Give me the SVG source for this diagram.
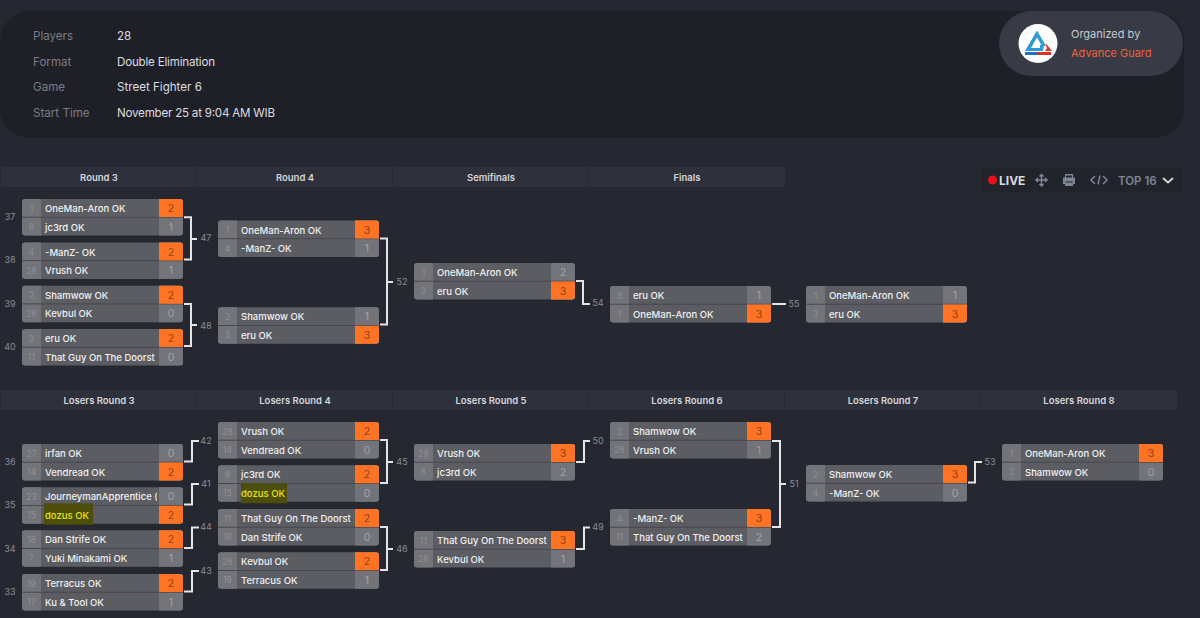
<svg xmlns="http://www.w3.org/2000/svg" xmlns:xlink="http://www.w3.org/1999/xlink" width="1200" height="618" viewBox="0 0 1200 618">
<style>
text{font-family:Inter,"Noto Sans","Liberation Sans",sans-serif}
.k{font-size:11.600px;fill:#7b7c82}
.v{font-size:11.600px;fill:#dcdde0}
.h{font-size:9.500px;font-weight:600;fill:#d6d7da;text-anchor:middle}
.hb{fill:#2e313b}
.s{font-size:8.500px;fill:#8f9096;text-anchor:middle}
.n{font-size:9.500px;font-weight:500;fill:#f0f0f0}
.y{fill:#e6e600}
.c{font-size:10.500px;fill:#a2a3a8;text-anchor:middle}
.w{font-size:10.500px;fill:#8a4516;text-anchor:middle}
.l{font-size:9px;fill:#8b8c92;text-anchor:middle}
.b{fill:none;stroke:#e4e4e6;stroke-width:2}
.i{fill:none;stroke:#7d8496;stroke-width:1.500}
</style>
<defs>
<g id="box">
<rect width="161" height="36.500" rx="3" fill="#5c5d62"/>
<path d="M19 0H3a3 3 0 0 0-3 3V33.500a3 3 0 0 0 3 3H19Z" fill="#73747a"/>
<path d="M137 0H158a3 3 0 0 1 3 3V33.500a3 3 0 0 1-3 3H137Z" fill="#73747a"/>
<rect y="17.700" width="161" height="1" fill="#46474c"/>
</g>
<path id="wt" d="M137 0H158a3 3 0 0 1 3 3V18H137Z" fill="#ff7424"/>
<path id="wb" d="M137 18.500H161V33.500a3 3 0 0 1-3 3H137Z" fill="#ff7424"/>
<clipPath id="nc"><rect x="20" y="0" width="115" height="37"/></clipPath>
</defs>
<rect width="1200" height="618" fill="#262831"/>
<rect x="0" y="11" width="1184" height="127" rx="30" fill="#1f2027"/>
<g id="info">
<text class="k" x="33" y="39.500">Players</text><text class="v" x="117" y="39.500">28</text>
<text class="k" x="33" y="65.500">Format</text><text class="v" x="117" y="65.500" textLength="98">Double Elimination</text>
<text class="k" x="33" y="91">Game</text><text class="v" x="117" y="91">Street Fighter 6</text>
<text class="k" x="33" y="117">Start Time</text><text class="v" x="117" y="117" textLength="158">November 25 at 9:04 AM WIB</text>
</g>
<g id="organizer">
<rect x="999" y="11" width="184" height="65" rx="32.500" fill="#383a45"/>
<circle cx="1038" cy="43.500" r="19.500" fill="#fff"/>
<path d="M1037 30.500 L1046 46 H1042 L1037 37.500 L1031 48 H1040 V45 H1044 L1043 51 H1025 Z" fill="#2e9bd6"/>
<path d="M1045.500 43 L1052 51 H1045 L1047 48.500 Z" fill="#d8322a"/>
<rect x="1025" y="52" width="13" height="3" fill="#2a6fb5"/>
<rect x="1038" y="52" width="13" height="3" fill="#d8322a"/>
<text x="1071" y="37.500" font-size="11" fill="#c9cad0">Organized by</text>
<text x="1071" y="57" font-size="11" fill="#f0613a">Advance Guard</text>
</g>
<g id="headers">
<rect class="hb" x="1" y="167" width="195" height="20"/><text class="h" x="99" y="180.500">Round 3</text>
<rect class="hb" x="197" y="167" width="195" height="20"/><text class="h" x="295" y="180.500">Round 4</text>
<rect class="hb" x="393" y="167" width="195" height="20"/><text class="h" x="491" y="180.500">Semifinals</text>
<rect class="hb" x="589" y="167" width="196" height="20"/><text class="h" x="687" y="180.500">Finals</text>
<rect class="hb" x="1" y="390" width="195" height="20"/><text class="h" x="99" y="404">Losers Round 3</text>
<rect class="hb" x="197" y="390" width="195" height="20"/><text class="h" x="295" y="404">Losers Round 4</text>
<rect class="hb" x="393" y="390" width="195" height="20"/><text class="h" x="491" y="404">Losers Round 5</text>
<rect class="hb" x="589" y="390" width="195" height="20"/><text class="h" x="687" y="404">Losers Round 6</text>
<rect class="hb" x="785" y="390" width="195" height="20"/><text class="h" x="883" y="404">Losers Round 7</text>
<rect class="hb" x="981" y="390" width="196" height="20"/><text class="h" x="1079" y="404">Losers Round 8</text>
</g>
<g id="toolbar">
<rect x="981" y="167" width="202" height="26" fill="#22242c"/>
<circle cx="992.500" cy="180" r="4.500" fill="#e8101a"/>
<text x="999" y="184.500" font-size="12" font-weight="700" fill="#d8d9dd">LIVE</text>
<path class="i" d="M1041.500 175V185.500M1036.500 180H1047M1039.500 176.500L1041.500 174.500L1043.500 176.500M1039.500 184L1041.500 186L1043.500 184M1038 178L1036 180L1038 182M1045 178L1047 180L1045 182"/>
<path d="M1065 174H1073V177.500H1075V184H1073V186H1065V184H1063V177.500H1065Z" fill="#7d8496"/>
<rect x="1066" y="175.500" width="6" height="2" fill="#22242c"/>
<rect x="1065.500" y="181.500" width="7" height="1" fill="#22242c"/>
<path class="i" d="M1095 176L1091 180L1095 184M1100 175.500L1098 184.500M1103 176L1107 180L1103 184"/>
<text x="1118" y="184.500" font-size="11.500" font-weight="600" fill="#7d8496">TOP 16</text>
<path d="M1163 178L1168 182.500L1173 178" fill="none" stroke="#d8d9dd" stroke-width="1.800"/>
</g>
<g id="connectors">
<path class="b" d="M184 217.300H191V259.500H184M191 239H197"/>
<path class="b" d="M184 304H191V346H184M191 325H197"/>
<path class="b" d="M380 238.500H387V324.500H380M387 282H393"/>
<path class="b" d="M576 281H583V304H590"/>
<path class="b" d="M772 304H786"/>
<path class="b" d="M184 461.500H192V441H199"/>
<path class="b" d="M184 504.500H192V484H199"/>
<path class="b" d="M184 548H192V527.500H199"/>
<path class="b" d="M184 591.500H192V571H199"/>
<path class="b" d="M380 440H387V483H380M387 462H393"/>
<path class="b" d="M380 527H387V570H380M387 549H393"/>
<path class="b" d="M576 462H584V441H590"/>
<path class="b" d="M576 549H584V527.500H590"/>
<path class="b" d="M772 441H780V527H772M780 484H786"/>
<path class="b" d="M968 482.500H975V462H982"/>
</g>
<g id="match-labels">
<text class="l" x="10" y="220">37</text><text class="l" x="10" y="263">38</text><text class="l" x="10" y="307">39</text><text class="l" x="10" y="350">40</text>
<text class="l" x="206" y="241">47</text><text class="l" x="206" y="329">48</text>
<text class="l" x="402" y="285">52</text><text class="l" x="598" y="306">54</text><text class="l" x="794" y="307">55</text>
<text class="l" x="10" y="465">36</text><text class="l" x="10" y="508">35</text><text class="l" x="10" y="552">34</text><text class="l" x="10" y="595">33</text>
<text class="l" x="206" y="444">42</text><text class="l" x="206" y="487">41</text><text class="l" x="206" y="530">44</text><text class="l" x="206" y="574">43</text>
<text class="l" x="402" y="465">45</text><text class="l" x="402" y="552">46</text>
<text class="l" x="598" y="444">50</text><text class="l" x="598" y="530">49</text>
<text class="l" x="794" y="487">51</text><text class="l" x="990" y="465">53</text>
</g>
<g id="m37" transform="translate(22,199)"><use href="#box"/><use href="#wt"/><text class="s" x="9.500" y="12.500">1</text><text class="n" x="23" y="13">OneMan-Aron OK</text><text class="w" x="149" y="13">2</text><text class="s" x="9.500" y="31">8</text><text class="n" x="23" y="31.500">jc3rd OK</text><text class="c" x="149" y="31.500">1</text></g>
<g id="m38" transform="translate(22,242.500)"><use href="#box"/><use href="#wt"/><text class="s" x="9.500" y="12.500">4</text><text class="n" x="23" y="13">-ManZ- OK</text><text class="w" x="149" y="13">2</text><text class="s" x="9.500" y="31">28</text><text class="n" x="23" y="31.500">Vrush OK</text><text class="c" x="149" y="31.500">1</text></g>
<g id="m39" transform="translate(22,285.700)"><use href="#box"/><use href="#wt"/><text class="s" x="9.500" y="12.500">2</text><text class="n" x="23" y="13">Shamwow OK</text><text class="w" x="149" y="13">2</text><text class="s" x="9.500" y="31">26</text><text class="n" x="23" y="31.500">Kevbul OK</text><text class="c" x="149" y="31.500">0</text></g>
<g id="m40" transform="translate(22,329)"><use href="#box"/><use href="#wt"/><text class="s" x="9.500" y="12.500">3</text><text class="n" x="23" y="13">eru OK</text><text class="w" x="149" y="13">2</text><text class="s" x="9.500" y="31">11</text><text class="n" x="23" y="31.500" clip-path="url(#nc)">That Guy On The Doorst</text><text class="c" x="149" y="31.500">0</text></g>
<g id="m47" transform="translate(218,220.500)"><use href="#box"/><use href="#wt"/><text class="s" x="9.500" y="12.500">1</text><text class="n" x="23" y="13">OneMan-Aron OK</text><text class="w" x="149" y="13">3</text><text class="s" x="9.500" y="31">4</text><text class="n" x="23" y="31.500">-ManZ- OK</text><text class="c" x="149" y="31.500">1</text></g>
<g id="m48" transform="translate(218,307.300)"><use href="#box"/><use href="#wb"/><text class="s" x="9.500" y="12.500">2</text><text class="n" x="23" y="13">Shamwow OK</text><text class="c" x="149" y="13">1</text><text class="s" x="9.500" y="31">3</text><text class="n" x="23" y="31.500">eru OK</text><text class="w" x="149" y="31.500">3</text></g>
<g id="m52" transform="translate(414,263)"><use href="#box"/><use href="#wb"/><text class="s" x="9.500" y="12.500">1</text><text class="n" x="23" y="13">OneMan-Aron OK</text><text class="c" x="149" y="13">2</text><text class="s" x="9.500" y="31">3</text><text class="n" x="23" y="31.500">eru OK</text><text class="w" x="149" y="31.500">3</text></g>
<g id="m54" transform="translate(610,286)"><use href="#box"/><use href="#wb"/><text class="s" x="9.500" y="12.500">3</text><text class="n" x="23" y="13">eru OK</text><text class="c" x="149" y="13">1</text><text class="s" x="9.500" y="31">1</text><text class="n" x="23" y="31.500">OneMan-Aron OK</text><text class="w" x="149" y="31.500">3</text></g>
<g id="m55" transform="translate(806,286)"><use href="#box"/><use href="#wb"/><text class="s" x="9.500" y="12.500">1</text><text class="n" x="23" y="13">OneMan-Aron OK</text><text class="c" x="149" y="13">1</text><text class="s" x="9.500" y="31">3</text><text class="n" x="23" y="31.500">eru OK</text><text class="w" x="149" y="31.500">3</text></g>
<g id="m36" transform="translate(22,444)"><use href="#box"/><use href="#wb"/><text class="s" x="9.500" y="12.500">27</text><text class="n" x="23" y="13">irfan OK</text><text class="c" x="149" y="13">0</text><text class="s" x="9.500" y="31">14</text><text class="n" x="23" y="31.500">Vendread OK</text><text class="w" x="149" y="31.500">2</text></g>
<g id="m35" transform="translate(22,487.300)"><use href="#box"/><use href="#wb"/><rect x="22" y="16" width="49" height="21.500" fill="#4e4e0c"/><text class="s" x="9.500" y="12.500">23</text><text class="n" x="23" y="13" clip-path="url(#nc)">JourneymanApprentice (</text><text class="c" x="149" y="13">0</text><text class="s" x="9.500" y="31">15</text><text class="n y" x="23" y="31.500">dozus OK</text><text class="w" x="149" y="31.500">2</text></g>
<g id="m34" transform="translate(22,530.300)"><use href="#box"/><use href="#wt"/><text class="s" x="9.500" y="12.500">18</text><text class="n" x="23" y="13">Dan Strife OK</text><text class="w" x="149" y="13">2</text><text class="s" x="9.500" y="31">7</text><text class="n" x="23" y="31.500">Yuki Minakami OK</text><text class="c" x="149" y="31.500">1</text></g>
<g id="m33" transform="translate(22,574)"><use href="#box"/><use href="#wt"/><text class="s" x="9.500" y="12.500">19</text><text class="n" x="23" y="13">Terracus OK</text><text class="w" x="149" y="13">2</text><text class="s" x="9.500" y="31">17</text><text class="n" x="23" y="31.500">Ku &amp; Tool OK</text><text class="c" x="149" y="31.500">1</text></g>
<g id="m42" transform="translate(218,422)"><use href="#box"/><use href="#wt"/><text class="s" x="9.500" y="12.500">28</text><text class="n" x="23" y="13">Vrush OK</text><text class="w" x="149" y="13">2</text><text class="s" x="9.500" y="31">14</text><text class="n" x="23" y="31.500">Vendread OK</text><text class="c" x="149" y="31.500">0</text></g>
<g id="m41" transform="translate(218,465.300)"><use href="#box"/><use href="#wt"/><rect x="23" y="18" width="46" height="20" fill="#4e4e0c"/><text class="s" x="9.500" y="12.500">8</text><text class="n" x="23" y="13">jc3rd OK</text><text class="w" x="149" y="13">2</text><text class="s" x="9.500" y="31">15</text><text class="n y" x="23" y="31.500">dozus OK</text><text class="c" x="149" y="31.500">0</text></g>
<g id="m44" transform="translate(218,509)"><use href="#box"/><use href="#wt"/><text class="s" x="9.500" y="12.500">11</text><text class="n" x="23" y="13" clip-path="url(#nc)">That Guy On The Doorst</text><text class="w" x="149" y="13">2</text><text class="s" x="9.500" y="31">18</text><text class="n" x="23" y="31.500">Dan Strife OK</text><text class="c" x="149" y="31.500">0</text></g>
<g id="m43" transform="translate(218,552.300)"><use href="#box"/><use href="#wt"/><text class="s" x="9.500" y="12.500">26</text><text class="n" x="23" y="13">Kevbul OK</text><text class="w" x="149" y="13">2</text><text class="s" x="9.500" y="31">19</text><text class="n" x="23" y="31.500">Terracus OK</text><text class="c" x="149" y="31.500">1</text></g>
<g id="m45" transform="translate(414,444)"><use href="#box"/><use href="#wt"/><text class="s" x="9.500" y="12.500">28</text><text class="n" x="23" y="13">Vrush OK</text><text class="w" x="149" y="13">3</text><text class="s" x="9.500" y="31">8</text><text class="n" x="23" y="31.500">jc3rd OK</text><text class="c" x="149" y="31.500">2</text></g>
<g id="m46" transform="translate(414,531)"><use href="#box"/><use href="#wt"/><text class="s" x="9.500" y="12.500">11</text><text class="n" x="23" y="13" clip-path="url(#nc)">That Guy On The Doorst</text><text class="w" x="149" y="13">3</text><text class="s" x="9.500" y="31">26</text><text class="n" x="23" y="31.500">Kevbul OK</text><text class="c" x="149" y="31.500">1</text></g>
<g id="m50" transform="translate(610,422)"><use href="#box"/><use href="#wt"/><text class="s" x="9.500" y="12.500">2</text><text class="n" x="23" y="13">Shamwow OK</text><text class="w" x="149" y="13">3</text><text class="s" x="9.500" y="31">28</text><text class="n" x="23" y="31.500">Vrush OK</text><text class="c" x="149" y="31.500">1</text></g>
<g id="m49" transform="translate(610,509)"><use href="#box"/><use href="#wt"/><text class="s" x="9.500" y="12.500">4</text><text class="n" x="23" y="13">-ManZ- OK</text><text class="w" x="149" y="13">3</text><text class="s" x="9.500" y="31">11</text><text class="n" x="23" y="31.500" clip-path="url(#nc)">That Guy On The Doorst</text><text class="c" x="149" y="31.500">2</text></g>
<g id="m51" transform="translate(806,465)"><use href="#box"/><use href="#wt"/><text class="s" x="9.500" y="12.500">2</text><text class="n" x="23" y="13">Shamwow OK</text><text class="w" x="149" y="13">3</text><text class="s" x="9.500" y="31">4</text><text class="n" x="23" y="31.500">-ManZ- OK</text><text class="c" x="149" y="31.500">0</text></g>
<g id="m53" transform="translate(1002,444)"><use href="#box"/><use href="#wt"/><text class="s" x="9.500" y="12.500">1</text><text class="n" x="23" y="13">OneMan-Aron OK</text><text class="w" x="149" y="13">3</text><text class="s" x="9.500" y="31">2</text><text class="n" x="23" y="31.500">Shamwow OK</text><text class="c" x="149" y="31.500">0</text></g>
</svg>
